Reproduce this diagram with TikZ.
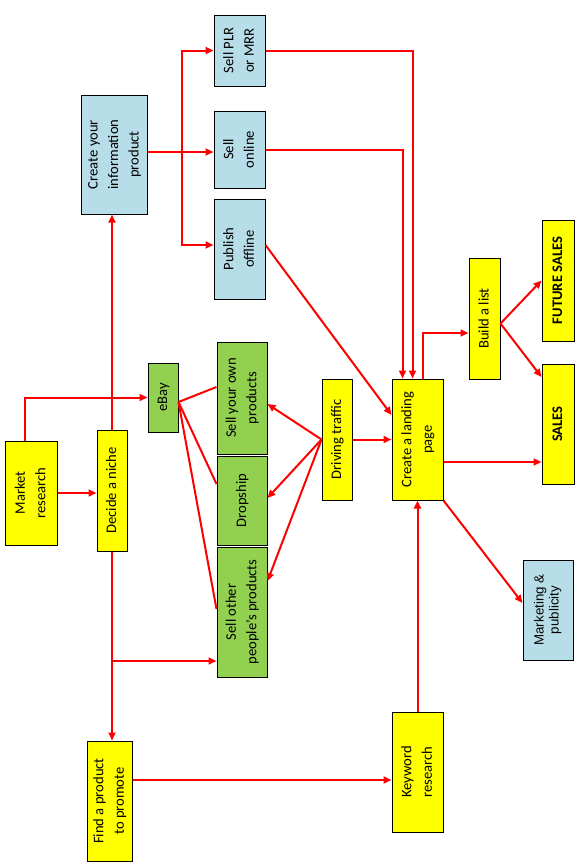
\documentclass[tikz,border=0pt]{standalone}
\usepackage{fontspec}
\setmainfont{Carlito}
\newfontfamily\arialfont{Liberation Sans}
\usetikzlibrary{arrows.meta,calc}
\definecolor{boxyellow}{HTML}{FFFF00}
\definecolor{boxgreen}{HTML}{92D050}
\definecolor{boxblue}{HTML}{B7DDE8}
\definecolor{linered}{HTML}{FF0000}
\newcommand{\rtext}[1]{\rotatebox{90}{\begin{tabular}{@{}c@{}}#1\end{tabular}}}
\tikzset{
  box/.style={draw=black, line width=1pt, inner sep=0pt, font=\fontsize{14.6}{20.5}\selectfont},
  ybox/.style={box, fill=boxyellow},
  gbox/.style={box, fill=boxgreen},
  bbox/.style={box, fill=boxblue},
  conn/.style={draw=linered, line width=2pt},
  arr/.style={conn, -{Triangle[length=8pt,width=7pt]}},
}
\begin{document}
\begin{tikzpicture}[x=1pt,y=-1pt]
\useasboundingbox (0,0) rectangle (582,868);
% nodes
\node[ybox, minimum width=52, minimum height=104] (mr) at (31,493) {\rtext{Market\\research}};
\node[ybox, minimum width=30, minimum height=121] (niche) at (112,490.5) {\rtext{Decide a niche}};
\node[gbox, minimum width=30, minimum height=69] (ebay) at (163,397.5) {\rtext{eBay}};
\node[bbox, minimum width=66, minimum height=119] (cyp) at (114,154.5) {\rtext{Create your\\information\\product}};
\node[bbox, minimum width=51, minimum height=71] (plr) at (239.5,50.5) {\rtext{Sell PLR\\or MRR}};
\node[bbox, minimum width=51, minimum height=77] (online) at (239.5,149.5) {\rtext{Sell\\online}};
\node[bbox, minimum width=51, minimum height=100] (publish) at (239.5,249) {\rtext{Publish\\offline}};
\node[gbox, minimum width=50, minimum height=112] (own) at (242,398) {\rtext{Sell your own\\products}};
\node[gbox, minimum width=50, minimum height=89] (drop) at (242,500.5) {\rtext{Dropship}};
\node[gbox, minimum width=50, minimum height=130] (other) at (242,612) {\rtext{Sell other\\people’s products}};
\node[ybox, minimum width=30, minimum height=121] (drive) at (337,439.5) {\rtext{Driving traffic}};
\node[ybox, minimum width=51, minimum height=121] (land) at (417.5,439.5) {\rtext{Create a landing\\page}};
\node[ybox, minimum width=31, minimum height=121] (list) at (484.5,318.5) {\rtext{Build a list}};
\node[ybox, minimum width=32, minimum height=121] (fut) at (558,280.5) {\rtext{\bfseries FUTURE SALES}};
\node[ybox, minimum width=32, minimum height=120] (sales) at (558,424) {\rtext{\bfseries SALES}};
\node[bbox, minimum width=50, minimum height=100, font=\arialfont\fontsize{13.3}{15}\selectfont] (mkt) at (548,610) {\rtext{Marketing \&\\publicity}};
\node[ybox, minimum width=45, minimum height=120] (find) at (109.5,801) {\rtext{Find a product\\to promote}};
\node[ybox, minimum width=51, minimum height=120] (kw) at (417.5,772) {\rtext{Keyword\\research}};
\coordinate (br) at (113,661);
\coordinate (bx) at (182,152);
% connectors
\draw[arr] ([xshift=-6pt]mr.north) |- (ebay.west);
\draw[arr] (mr.east) -- (mr.east -| niche.west);
\draw[arr] (niche.north) -- (niche.north |- cyp.south);
\draw[arr] (niche.south) -- (niche.south |- find.north);
\draw[arr] (br) -- (br -| other.west);
\draw[arr] (cyp.east |- bx) -- (bx -| online.west);
\draw[arr] (bx) |- (plr.west);
\draw[arr] (bx) |- ([yshift=4pt]publish.west);
\draw[arr] (plr.east) -| ([xshift=-5pt]land.north);
\draw[arr] (online.east) -| ([xshift=-15pt]land.north);
\draw[arr] ([yshift=4pt]publish.east) -- ([yshift=24.5pt]land.west);
\draw[arr] (drive.west) -- ([yshift=-6pt]own.east);
\draw[arr] (drive.west) -- ([yshift=2.5pt]drop.east);
\draw[arr] (drive.west) -- ([yshift=31pt]other.east);
\draw[arr] (drive.east) -- (drive.east -| land.west);
\draw[arr] ([xshift=5.5pt]land.north) |- ([yshift=-14.5pt]list.west);
\draw[arr] ([yshift=-5pt]list.east) -- (fut.west);
\draw[arr] ([yshift=-5pt]list.east) -- ([yshift=47pt]sales.west);
\draw[arr] ([yshift=-22.5pt]land.east) -- ([yshift=-22.5pt]land.east -| sales.west);
\draw[arr] (land.south east) -- ([yshift=7pt]mkt.west);
\draw[arr] (kw.north) -- (land.south);
\draw[arr] ([yshift=21pt]find.east) -- ([yshift=21pt]find.east -| kw.west);
\draw[conn] ([yshift=-4.5pt]ebay.east) -- ([yshift=11pt]own.west);
\draw[conn] ([yshift=-4.5pt]ebay.east) -- ([yshift=16.5pt]drop.west);
\draw[conn] ([yshift=-4.5pt]ebay.east) -- ([yshift=3pt]other.west);
\end{tikzpicture}
\end{document}
